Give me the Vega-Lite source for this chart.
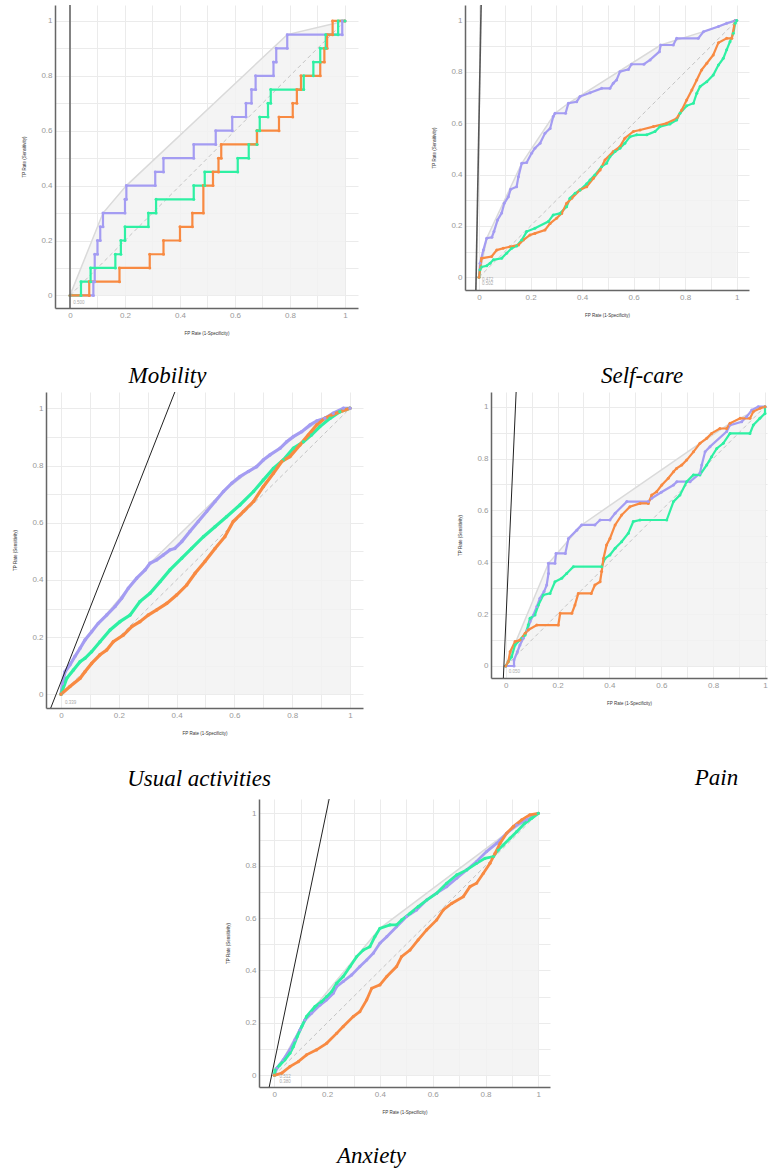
{
"$schema": "https://vega.github.io/schema/vega-lite/v6.json",
"padding": {"left": 0, "top": 5, "right": 0, "bottom": 0},
"config": {
 "view": {"stroke": null},
 "concat": {"spacing": 0},
 "axis": {"grid": true, "gridColor": "#ebebeb", "gridWidth": 1, "domainColor": "#666", "domainWidth": 1.5, "ticks": false, "labelColor": "#999", "labelFontSize": 8, "labelFont": "Liberation Sans", "labelPadding": 3, "labelOverlap": false, "labelBound": false, "titleFont": "Liberation Sans", "titleFontSize": 4.5, "titleFontWeight": "normal", "titleColor": "#333"},
 "axisX": {"titlePadding": 11},
 "axisY": {"titlePadding": 14},
 "title": {"font": "Liberation Serif", "fontStyle": "italic", "fontWeight": "normal", "fontSize": 23, "color": "#000", "orient": "bottom", "anchor": "middle", "frame": "group"}
},
"datasets": {
 "diag": [{"i":0,"x":0,"y":0},{"i":1,"x":1,"y":1}],
 "hull": [
  {"p":1,"i":0,"x":0,"y":0},{"p":1,"i":1,"x":0.12,"y":0.3},{"p":1,"i":2,"x":0.205,"y":0.4},{"p":1,"i":3,"x":0.79,"y":0.95},{"p":1,"i":4,"x":1,"y":1},
  {"p":2,"i":0,"x":0,"y":0},{"p":2,"i":1,"x":0.03,"y":0.152},{"p":2,"i":2,"x":0.166,"y":0.444},{"p":2,"i":3,"x":0.295,"y":0.639},{"p":2,"i":4,"x":0.347,"y":0.678},{"p":2,"i":5,"x":0.705,"y":0.905},{"p":2,"i":6,"x":0.871,"y":0.957},{"p":2,"i":7,"x":1,"y":1},
  {"p":3,"i":0,"x":0,"y":0},{"p":3,"i":1,"x":0.014,"y":0.079},{"p":3,"i":2,"x":0.106,"y":0.219},{"p":3,"i":3,"x":0.233,"y":0.371},{"p":3,"i":4,"x":0.308,"y":0.458},{"p":3,"i":5,"x":0.562,"y":0.709},{"p":3,"i":6,"x":0.7,"y":0.819},{"p":3,"i":7,"x":0.833,"y":0.918},{"p":3,"i":8,"x":0.942,"y":0.983},{"p":3,"i":9,"x":1,"y":1},
  {"p":4,"i":0,"x":0,"y":0},{"p":4,"i":1,"x":0.165,"y":0.396},{"p":4,"i":2,"x":0.293,"y":0.544},{"p":4,"i":3,"x":0.749,"y":0.859},{"p":4,"i":4,"x":0.865,"y":0.936},{"p":4,"i":5,"x":0.981,"y":0.994},{"p":4,"i":6,"x":1,"y":1},
  {"p":5,"i":0,"x":0,"y":0},{"p":5,"i":1,"x":0.122,"y":0.224},{"p":5,"i":2,"x":0.4,"y":0.561},{"p":5,"i":3,"x":0.88,"y":0.924},{"p":5,"i":4,"x":1,"y":1}
 ],
 "thr": [
  {"p":1,"i":0,"x":0,"y":-0.1},{"p":1,"i":1,"x":0,"y":1.1},
  {"p":2,"i":0,"x":-0.013,"y":-0.1},{"p":2,"i":1,"x":0.009,"y":1.1},
  {"p":3,"i":0,"x":-0.0558,"y":-0.1},{"p":3,"i":1,"x":0.4107,"y":1.1},
  {"p":4,"i":0,"x":-0.0115,"y":-0.1},{"p":4,"i":1,"x":0.0422,"y":1.1},
  {"p":5,"i":0,"x":-0.0308,"y":-0.1},{"p":5,"i":1,"x":0.2171,"y":1.1}
 ],
 "lbl": [
  {"p":1,"x":0.012,"y":-0.028,"t":"0.500"},
  {"p":2,"x":0.012,"y":-0.012,"t":"0.472"},{"p":2,"x":0.012,"y":-0.027,"t":"0.502"},
  {"p":3,"x":0.014,"y":-0.031,"t":"0.339"},
  {"p":4,"x":0.012,"y":-0.025,"t":"0.050"},
  {"p":5,"x":0.02,"y":-0.008,"t":"0.512"},{"p":5,"x":0.02,"y":-0.026,"t":"0.380"}
 ],
 "curves": [
  {"p":1,"s":"a","i":0,"x":0,"y":0},{"p":1,"s":"a","i":1,"x":0.085,"y":0},{"p":1,"s":"a","i":2,"x":0.085,"y":0.05},{"p":1,"s":"a","i":3,"x":0.09,"y":0.05},{"p":1,"s":"a","i":4,"x":0.09,"y":0.15},{"p":1,"s":"a","i":5,"x":0.1,"y":0.15},{"p":1,"s":"a","i":6,"x":0.1,"y":0.2},{"p":1,"s":"a","i":7,"x":0.11,"y":0.2},{"p":1,"s":"a","i":8,"x":0.11,"y":0.25},{"p":1,"s":"a","i":9,"x":0.12,"y":0.25},{"p":1,"s":"a","i":10,"x":0.12,"y":0.3},{"p":1,"s":"a","i":11,"x":0.2,"y":0.3},{"p":1,"s":"a","i":12,"x":0.2,"y":0.35},{"p":1,"s":"a","i":13,"x":0.205,"y":0.35},{"p":1,"s":"a","i":14,"x":0.205,"y":0.4},{"p":1,"s":"a","i":15,"x":0.31,"y":0.4},{"p":1,"s":"a","i":16,"x":0.31,"y":0.45},{"p":1,"s":"a","i":17,"x":0.34,"y":0.45},{"p":1,"s":"a","i":18,"x":0.34,"y":0.5},{"p":1,"s":"a","i":19,"x":0.45,"y":0.5},{"p":1,"s":"a","i":20,"x":0.45,"y":0.55},{"p":1,"s":"a","i":21,"x":0.53,"y":0.55},{"p":1,"s":"a","i":22,"x":0.53,"y":0.6},{"p":1,"s":"a","i":23,"x":0.59,"y":0.6},{"p":1,"s":"a","i":24,"x":0.59,"y":0.65},{"p":1,"s":"a","i":25,"x":0.64,"y":0.65},{"p":1,"s":"a","i":26,"x":0.64,"y":0.7},{"p":1,"s":"a","i":27,"x":0.66,"y":0.7},{"p":1,"s":"a","i":28,"x":0.66,"y":0.75},{"p":1,"s":"a","i":29,"x":0.675,"y":0.75},{"p":1,"s":"a","i":30,"x":0.675,"y":0.8},{"p":1,"s":"a","i":31,"x":0.74,"y":0.8},{"p":1,"s":"a","i":32,"x":0.74,"y":0.85},{"p":1,"s":"a","i":33,"x":0.75,"y":0.85},{"p":1,"s":"a","i":34,"x":0.75,"y":0.9},{"p":1,"s":"a","i":35,"x":0.79,"y":0.9},{"p":1,"s":"a","i":36,"x":0.79,"y":0.95},{"p":1,"s":"a","i":37,"x":0.99,"y":0.95},{"p":1,"s":"a","i":38,"x":0.99,"y":1},{"p":1,"s":"a","i":39,"x":1,"y":1},
  {"p":1,"s":"b","i":0,"x":0,"y":0},{"p":1,"s":"b","i":1,"x":0.04,"y":0},{"p":1,"s":"b","i":2,"x":0.04,"y":0.05},{"p":1,"s":"b","i":3,"x":0.075,"y":0.05},{"p":1,"s":"b","i":4,"x":0.075,"y":0.1},{"p":1,"s":"b","i":5,"x":0.165,"y":0.1},{"p":1,"s":"b","i":6,"x":0.165,"y":0.15},{"p":1,"s":"b","i":7,"x":0.185,"y":0.15},{"p":1,"s":"b","i":8,"x":0.185,"y":0.2},{"p":1,"s":"b","i":9,"x":0.2,"y":0.2},{"p":1,"s":"b","i":10,"x":0.2,"y":0.25},{"p":1,"s":"b","i":11,"x":0.285,"y":0.25},{"p":1,"s":"b","i":12,"x":0.285,"y":0.3},{"p":1,"s":"b","i":13,"x":0.313,"y":0.3},{"p":1,"s":"b","i":14,"x":0.313,"y":0.35},{"p":1,"s":"b","i":15,"x":0.45,"y":0.35},{"p":1,"s":"b","i":16,"x":0.45,"y":0.4},{"p":1,"s":"b","i":17,"x":0.49,"y":0.4},{"p":1,"s":"b","i":18,"x":0.49,"y":0.45},{"p":1,"s":"b","i":19,"x":0.61,"y":0.45},{"p":1,"s":"b","i":20,"x":0.61,"y":0.5},{"p":1,"s":"b","i":21,"x":0.65,"y":0.5},{"p":1,"s":"b","i":22,"x":0.65,"y":0.55},{"p":1,"s":"b","i":23,"x":0.68,"y":0.55},{"p":1,"s":"b","i":24,"x":0.68,"y":0.6},{"p":1,"s":"b","i":25,"x":0.69,"y":0.6},{"p":1,"s":"b","i":26,"x":0.69,"y":0.65},{"p":1,"s":"b","i":27,"x":0.72,"y":0.65},{"p":1,"s":"b","i":28,"x":0.72,"y":0.7},{"p":1,"s":"b","i":29,"x":0.73,"y":0.7},{"p":1,"s":"b","i":30,"x":0.73,"y":0.75},{"p":1,"s":"b","i":31,"x":0.85,"y":0.75},{"p":1,"s":"b","i":32,"x":0.85,"y":0.8},{"p":1,"s":"b","i":33,"x":0.885,"y":0.8},{"p":1,"s":"b","i":34,"x":0.885,"y":0.85},{"p":1,"s":"b","i":35,"x":0.91,"y":0.85},{"p":1,"s":"b","i":36,"x":0.91,"y":0.9},{"p":1,"s":"b","i":37,"x":0.93,"y":0.9},{"p":1,"s":"b","i":38,"x":0.93,"y":0.95},{"p":1,"s":"b","i":39,"x":0.975,"y":0.95},{"p":1,"s":"b","i":40,"x":0.975,"y":1},{"p":1,"s":"b","i":41,"x":1,"y":1},
  {"p":1,"s":"c","i":0,"x":0,"y":0},{"p":1,"s":"c","i":1,"x":0.07,"y":0},{"p":1,"s":"c","i":2,"x":0.07,"y":0.05},{"p":1,"s":"c","i":3,"x":0.18,"y":0.05},{"p":1,"s":"c","i":4,"x":0.18,"y":0.1},{"p":1,"s":"c","i":5,"x":0.29,"y":0.1},{"p":1,"s":"c","i":6,"x":0.29,"y":0.15},{"p":1,"s":"c","i":7,"x":0.34,"y":0.15},{"p":1,"s":"c","i":8,"x":0.34,"y":0.2},{"p":1,"s":"c","i":9,"x":0.4,"y":0.2},{"p":1,"s":"c","i":10,"x":0.4,"y":0.25},{"p":1,"s":"c","i":11,"x":0.445,"y":0.25},{"p":1,"s":"c","i":12,"x":0.445,"y":0.3},{"p":1,"s":"c","i":13,"x":0.485,"y":0.3},{"p":1,"s":"c","i":14,"x":0.485,"y":0.4},{"p":1,"s":"c","i":15,"x":0.52,"y":0.4},{"p":1,"s":"c","i":16,"x":0.52,"y":0.45},{"p":1,"s":"c","i":17,"x":0.54,"y":0.45},{"p":1,"s":"c","i":18,"x":0.54,"y":0.5},{"p":1,"s":"c","i":19,"x":0.55,"y":0.5},{"p":1,"s":"c","i":20,"x":0.55,"y":0.55},{"p":1,"s":"c","i":21,"x":0.68,"y":0.55},{"p":1,"s":"c","i":22,"x":0.68,"y":0.6},{"p":1,"s":"c","i":23,"x":0.76,"y":0.6},{"p":1,"s":"c","i":24,"x":0.76,"y":0.65},{"p":1,"s":"c","i":25,"x":0.81,"y":0.65},{"p":1,"s":"c","i":26,"x":0.81,"y":0.7},{"p":1,"s":"c","i":27,"x":0.825,"y":0.7},{"p":1,"s":"c","i":28,"x":0.825,"y":0.75},{"p":1,"s":"c","i":29,"x":0.84,"y":0.75},{"p":1,"s":"c","i":30,"x":0.84,"y":0.8},{"p":1,"s":"c","i":31,"x":0.91,"y":0.8},{"p":1,"s":"c","i":32,"x":0.91,"y":0.85},{"p":1,"s":"c","i":33,"x":0.925,"y":0.85},{"p":1,"s":"c","i":34,"x":0.925,"y":0.9},{"p":1,"s":"c","i":35,"x":0.935,"y":0.9},{"p":1,"s":"c","i":36,"x":0.935,"y":0.95},{"p":1,"s":"c","i":37,"x":0.955,"y":0.95},{"p":1,"s":"c","i":38,"x":0.955,"y":1},{"p":1,"s":"c","i":39,"x":1,"y":1},

  {"p":2,"s":"a","i":0,"x":0,"y":0},{"p":2,"s":"a","i":1,"x":0.004,"y":0.055},{"p":2,"s":"a","i":2,"x":0.017,"y":0.106},{"p":2,"s":"a","i":3,"x":0.03,"y":0.152},{"p":2,"s":"a","i":4,"x":0.05,"y":0.156},{"p":2,"s":"a","i":5,"x":0.058,"y":0.178},{"p":2,"s":"a","i":6,"x":0.072,"y":0.223},{"p":2,"s":"a","i":7,"x":0.088,"y":0.25},{"p":2,"s":"a","i":8,"x":0.098,"y":0.288},{"p":2,"s":"a","i":9,"x":0.114,"y":0.314},{"p":2,"s":"a","i":10,"x":0.123,"y":0.343},{"p":2,"s":"a","i":11,"x":0.146,"y":0.353},{"p":2,"s":"a","i":12,"x":0.153,"y":0.392},{"p":2,"s":"a","i":13,"x":0.166,"y":0.444},{"p":2,"s":"a","i":14,"x":0.185,"y":0.447},{"p":2,"s":"a","i":15,"x":0.204,"y":0.483},{"p":2,"s":"a","i":16,"x":0.217,"y":0.503},{"p":2,"s":"a","i":17,"x":0.237,"y":0.522},{"p":2,"s":"a","i":18,"x":0.256,"y":0.561},{"p":2,"s":"a","i":19,"x":0.276,"y":0.58},{"p":2,"s":"a","i":20,"x":0.288,"y":0.626},{"p":2,"s":"a","i":21,"x":0.295,"y":0.639},{"p":2,"s":"a","i":22,"x":0.336,"y":0.639},{"p":2,"s":"a","i":23,"x":0.347,"y":0.678},{"p":2,"s":"a","i":24,"x":0.379,"y":0.684},{"p":2,"s":"a","i":25,"x":0.392,"y":0.704},{"p":2,"s":"a","i":26,"x":0.431,"y":0.719},{"p":2,"s":"a","i":27,"x":0.476,"y":0.736},{"p":2,"s":"a","i":28,"x":0.508,"y":0.736},{"p":2,"s":"a","i":29,"x":0.521,"y":0.756},{"p":2,"s":"a","i":30,"x":0.534,"y":0.769},{"p":2,"s":"a","i":31,"x":0.547,"y":0.801},{"p":2,"s":"a","i":32,"x":0.58,"y":0.81},{"p":2,"s":"a","i":33,"x":0.592,"y":0.83},{"p":2,"s":"a","i":34,"x":0.64,"y":0.83},{"p":2,"s":"a","i":35,"x":0.664,"y":0.847},{"p":2,"s":"a","i":36,"x":0.7,"y":0.879},{"p":2,"s":"a","i":37,"x":0.705,"y":0.905},{"p":2,"s":"a","i":38,"x":0.754,"y":0.905},{"p":2,"s":"a","i":39,"x":0.767,"y":0.931},{"p":2,"s":"a","i":40,"x":0.851,"y":0.931},{"p":2,"s":"a","i":41,"x":0.871,"y":0.957},{"p":2,"s":"a","i":42,"x":0.929,"y":0.977},{"p":2,"s":"a","i":43,"x":0.961,"y":0.99},{"p":2,"s":"a","i":44,"x":0.994,"y":1},{"p":2,"s":"a","i":45,"x":1,"y":1},
  {"p":2,"s":"b","i":0,"x":0,"y":0},{"p":2,"s":"b","i":1,"x":0.004,"y":0.029},{"p":2,"s":"b","i":2,"x":0.01,"y":0.04},{"p":2,"s":"b","i":3,"x":0.03,"y":0.045},{"p":2,"s":"b","i":4,"x":0.043,"y":0.055},{"p":2,"s":"b","i":5,"x":0.056,"y":0.068},{"p":2,"s":"b","i":6,"x":0.088,"y":0.074},{"p":2,"s":"b","i":7,"x":0.107,"y":0.094},{"p":2,"s":"b","i":8,"x":0.127,"y":0.113},{"p":2,"s":"b","i":9,"x":0.146,"y":0.122},{"p":2,"s":"b","i":10,"x":0.166,"y":0.145},{"p":2,"s":"b","i":11,"x":0.185,"y":0.178},{"p":2,"s":"b","i":12,"x":0.217,"y":0.191},{"p":2,"s":"b","i":13,"x":0.269,"y":0.217},{"p":2,"s":"b","i":14,"x":0.288,"y":0.243},{"p":2,"s":"b","i":15,"x":0.314,"y":0.249},{"p":2,"s":"b","i":16,"x":0.34,"y":0.275},{"p":2,"s":"b","i":17,"x":0.353,"y":0.308},{"p":2,"s":"b","i":18,"x":0.373,"y":0.327},{"p":2,"s":"b","i":19,"x":0.392,"y":0.34},{"p":2,"s":"b","i":20,"x":0.418,"y":0.364},{"p":2,"s":"b","i":21,"x":0.431,"y":0.379},{"p":2,"s":"b","i":22,"x":0.45,"y":0.399},{"p":2,"s":"b","i":23,"x":0.476,"y":0.431},{"p":2,"s":"b","i":24,"x":0.495,"y":0.444},{"p":2,"s":"b","i":25,"x":0.508,"y":0.47},{"p":2,"s":"b","i":26,"x":0.528,"y":0.49},{"p":2,"s":"b","i":27,"x":0.547,"y":0.503},{"p":2,"s":"b","i":28,"x":0.566,"y":0.522},{"p":2,"s":"b","i":29,"x":0.586,"y":0.548},{"p":2,"s":"b","i":30,"x":0.612,"y":0.555},{"p":2,"s":"b","i":31,"x":0.651,"y":0.555},{"p":2,"s":"b","i":32,"x":0.683,"y":0.568},{"p":2,"s":"b","i":33,"x":0.702,"y":0.587},{"p":2,"s":"b","i":34,"x":0.741,"y":0.597},{"p":2,"s":"b","i":35,"x":0.767,"y":0.613},{"p":2,"s":"b","i":36,"x":0.78,"y":0.639},{"p":2,"s":"b","i":37,"x":0.806,"y":0.668},{"p":2,"s":"b","i":38,"x":0.832,"y":0.678},{"p":2,"s":"b","i":39,"x":0.845,"y":0.717},{"p":2,"s":"b","i":40,"x":0.858,"y":0.743},{"p":2,"s":"b","i":41,"x":0.884,"y":0.762},{"p":2,"s":"b","i":42,"x":0.909,"y":0.788},{"p":2,"s":"b","i":43,"x":0.929,"y":0.827},{"p":2,"s":"b","i":44,"x":0.948,"y":0.853},{"p":2,"s":"b","i":45,"x":0.961,"y":0.886},{"p":2,"s":"b","i":46,"x":0.974,"y":0.918},{"p":2,"s":"b","i":47,"x":0.987,"y":0.951},{"p":2,"s":"b","i":48,"x":0.994,"y":0.99},{"p":2,"s":"b","i":49,"x":1,"y":1},
  {"p":2,"s":"c","i":0,"x":0,"y":0},{"p":2,"s":"c","i":1,"x":0.01,"y":0.074},{"p":2,"s":"c","i":2,"x":0.049,"y":0.081},{"p":2,"s":"c","i":3,"x":0.069,"y":0.106},{"p":2,"s":"c","i":4,"x":0.094,"y":0.113},{"p":2,"s":"c","i":5,"x":0.12,"y":0.119},{"p":2,"s":"c","i":6,"x":0.153,"y":0.126},{"p":2,"s":"c","i":7,"x":0.172,"y":0.145},{"p":2,"s":"c","i":8,"x":0.198,"y":0.165},{"p":2,"s":"c","i":9,"x":0.217,"y":0.171},{"p":2,"s":"c","i":10,"x":0.256,"y":0.184},{"p":2,"s":"c","i":11,"x":0.276,"y":0.21},{"p":2,"s":"c","i":12,"x":0.301,"y":0.23},{"p":2,"s":"c","i":13,"x":0.321,"y":0.249},{"p":2,"s":"c","i":14,"x":0.34,"y":0.288},{"p":2,"s":"c","i":15,"x":0.36,"y":0.308},{"p":2,"s":"c","i":16,"x":0.392,"y":0.34},{"p":2,"s":"c","i":17,"x":0.418,"y":0.353},{"p":2,"s":"c","i":18,"x":0.444,"y":0.386},{"p":2,"s":"c","i":19,"x":0.47,"y":0.418},{"p":2,"s":"c","i":20,"x":0.489,"y":0.457},{"p":2,"s":"c","i":21,"x":0.521,"y":0.49},{"p":2,"s":"c","i":22,"x":0.547,"y":0.509},{"p":2,"s":"c","i":23,"x":0.566,"y":0.542},{"p":2,"s":"c","i":24,"x":0.599,"y":0.568},{"p":2,"s":"c","i":25,"x":0.625,"y":0.574},{"p":2,"s":"c","i":26,"x":0.677,"y":0.587},{"p":2,"s":"c","i":27,"x":0.728,"y":0.6},{"p":2,"s":"c","i":28,"x":0.767,"y":0.619},{"p":2,"s":"c","i":29,"x":0.787,"y":0.652},{"p":2,"s":"c","i":30,"x":0.806,"y":0.691},{"p":2,"s":"c","i":31,"x":0.826,"y":0.73},{"p":2,"s":"c","i":32,"x":0.845,"y":0.769},{"p":2,"s":"c","i":33,"x":0.864,"y":0.808},{"p":2,"s":"c","i":34,"x":0.884,"y":0.834},{"p":2,"s":"c","i":35,"x":0.909,"y":0.866},{"p":2,"s":"c","i":36,"x":0.929,"y":0.914},{"p":2,"s":"c","i":37,"x":0.961,"y":0.931},{"p":2,"s":"c","i":38,"x":0.981,"y":0.931},{"p":2,"s":"c","i":39,"x":0.994,"y":1},{"p":2,"s":"c","i":40,"x":1,"y":1},

  {"p":3,"s":"a","i":0,"x":0,"y":0},{"p":3,"s":"a","i":1,"x":0.005,"y":0.038},{"p":3,"s":"a","i":2,"x":0.014,"y":0.079},{"p":3,"s":"a","i":3,"x":0.031,"y":0.103},{"p":3,"s":"a","i":4,"x":0.048,"y":0.132},{"p":3,"s":"a","i":5,"x":0.066,"y":0.161},{"p":3,"s":"a","i":6,"x":0.083,"y":0.19},{"p":3,"s":"a","i":7,"x":0.106,"y":0.219},{"p":3,"s":"a","i":8,"x":0.129,"y":0.248},{"p":3,"s":"a","i":9,"x":0.158,"y":0.277},{"p":3,"s":"a","i":10,"x":0.187,"y":0.307},{"p":3,"s":"a","i":11,"x":0.21,"y":0.336},{"p":3,"s":"a","i":12,"x":0.233,"y":0.371},{"p":3,"s":"a","i":13,"x":0.262,"y":0.406},{"p":3,"s":"a","i":14,"x":0.291,"y":0.435},{"p":3,"s":"a","i":15,"x":0.308,"y":0.458},{"p":3,"s":"a","i":16,"x":0.331,"y":0.47},{"p":3,"s":"a","i":17,"x":0.354,"y":0.487},{"p":3,"s":"a","i":18,"x":0.377,"y":0.505},{"p":3,"s":"a","i":19,"x":0.394,"y":0.51},{"p":3,"s":"a","i":20,"x":0.418,"y":0.534},{"p":3,"s":"a","i":21,"x":0.446,"y":0.569},{"p":3,"s":"a","i":22,"x":0.475,"y":0.604},{"p":3,"s":"a","i":23,"x":0.504,"y":0.639},{"p":3,"s":"a","i":24,"x":0.533,"y":0.674},{"p":3,"s":"a","i":25,"x":0.562,"y":0.709},{"p":3,"s":"a","i":26,"x":0.591,"y":0.738},{"p":3,"s":"a","i":27,"x":0.619,"y":0.761},{"p":3,"s":"a","i":28,"x":0.648,"y":0.779},{"p":3,"s":"a","i":29,"x":0.677,"y":0.796},{"p":3,"s":"a","i":30,"x":0.7,"y":0.819},{"p":3,"s":"a","i":31,"x":0.723,"y":0.837},{"p":3,"s":"a","i":32,"x":0.758,"y":0.86},{"p":3,"s":"a","i":33,"x":0.781,"y":0.883},{"p":3,"s":"a","i":34,"x":0.804,"y":0.901},{"p":3,"s":"a","i":35,"x":0.833,"y":0.918},{"p":3,"s":"a","i":36,"x":0.862,"y":0.942},{"p":3,"s":"a","i":37,"x":0.885,"y":0.956},{"p":3,"s":"a","i":38,"x":0.913,"y":0.965},{"p":3,"s":"a","i":39,"x":0.942,"y":0.983},{"p":3,"s":"a","i":40,"x":0.977,"y":1},{"p":3,"s":"a","i":41,"x":1,"y":1},
  {"p":3,"s":"b","i":0,"x":0,"y":0},{"p":3,"s":"b","i":1,"x":0.02,"y":0.056},{"p":3,"s":"b","i":2,"x":0.043,"y":0.085},{"p":3,"s":"b","i":3,"x":0.066,"y":0.114},{"p":3,"s":"b","i":4,"x":0.083,"y":0.126},{"p":3,"s":"b","i":5,"x":0.106,"y":0.149},{"p":3,"s":"b","i":6,"x":0.135,"y":0.184},{"p":3,"s":"b","i":7,"x":0.17,"y":0.225},{"p":3,"s":"b","i":8,"x":0.204,"y":0.254},{"p":3,"s":"b","i":9,"x":0.239,"y":0.277},{"p":3,"s":"b","i":10,"x":0.273,"y":0.324},{"p":3,"s":"b","i":11,"x":0.308,"y":0.353},{"p":3,"s":"b","i":12,"x":0.343,"y":0.394},{"p":3,"s":"b","i":13,"x":0.377,"y":0.435},{"p":3,"s":"b","i":14,"x":0.418,"y":0.476},{"p":3,"s":"b","i":15,"x":0.452,"y":0.51},{"p":3,"s":"b","i":16,"x":0.493,"y":0.551},{"p":3,"s":"b","i":17,"x":0.533,"y":0.586},{"p":3,"s":"b","i":18,"x":0.573,"y":0.621},{"p":3,"s":"b","i":19,"x":0.619,"y":0.662},{"p":3,"s":"b","i":20,"x":0.666,"y":0.709},{"p":3,"s":"b","i":21,"x":0.7,"y":0.749},{"p":3,"s":"b","i":22,"x":0.735,"y":0.79},{"p":3,"s":"b","i":23,"x":0.769,"y":0.819},{"p":3,"s":"b","i":24,"x":0.804,"y":0.86},{"p":3,"s":"b","i":25,"x":0.839,"y":0.883},{"p":3,"s":"b","i":26,"x":0.867,"y":0.907},{"p":3,"s":"b","i":27,"x":0.896,"y":0.936},{"p":3,"s":"b","i":28,"x":0.931,"y":0.965},{"p":3,"s":"b","i":29,"x":0.965,"y":0.988},{"p":3,"s":"b","i":30,"x":1,"y":1},
  {"p":3,"s":"c","i":0,"x":0,"y":0},{"p":3,"s":"c","i":1,"x":0.031,"y":0.027},{"p":3,"s":"c","i":2,"x":0.066,"y":0.056},{"p":3,"s":"c","i":3,"x":0.083,"y":0.079},{"p":3,"s":"c","i":4,"x":0.106,"y":0.108},{"p":3,"s":"c","i":5,"x":0.135,"y":0.138},{"p":3,"s":"c","i":6,"x":0.158,"y":0.155},{"p":3,"s":"c","i":7,"x":0.181,"y":0.184},{"p":3,"s":"c","i":8,"x":0.216,"y":0.207},{"p":3,"s":"c","i":9,"x":0.245,"y":0.237},{"p":3,"s":"c","i":10,"x":0.273,"y":0.254},{"p":3,"s":"c","i":11,"x":0.302,"y":0.277},{"p":3,"s":"c","i":12,"x":0.331,"y":0.295},{"p":3,"s":"c","i":13,"x":0.366,"y":0.318},{"p":3,"s":"c","i":14,"x":0.4,"y":0.347},{"p":3,"s":"c","i":15,"x":0.435,"y":0.382},{"p":3,"s":"c","i":16,"x":0.464,"y":0.423},{"p":3,"s":"c","i":17,"x":0.498,"y":0.464},{"p":3,"s":"c","i":18,"x":0.533,"y":0.51},{"p":3,"s":"c","i":19,"x":0.567,"y":0.551},{"p":3,"s":"c","i":20,"x":0.596,"y":0.604},{"p":3,"s":"c","i":21,"x":0.631,"y":0.639},{"p":3,"s":"c","i":22,"x":0.666,"y":0.674},{"p":3,"s":"c","i":23,"x":0.7,"y":0.726},{"p":3,"s":"c","i":24,"x":0.735,"y":0.773},{"p":3,"s":"c","i":25,"x":0.764,"y":0.814},{"p":3,"s":"c","i":26,"x":0.792,"y":0.831},{"p":3,"s":"c","i":27,"x":0.827,"y":0.872},{"p":3,"s":"c","i":28,"x":0.856,"y":0.907},{"p":3,"s":"c","i":29,"x":0.885,"y":0.942},{"p":3,"s":"c","i":30,"x":0.913,"y":0.965},{"p":3,"s":"c","i":31,"x":0.942,"y":0.979},{"p":3,"s":"c","i":32,"x":1,"y":1},

  {"p":4,"s":"a","i":0,"x":0,"y":0},{"p":4,"s":"a","i":1,"x":0.032,"y":0},{"p":4,"s":"a","i":2,"x":0.032,"y":0.023},{"p":4,"s":"a","i":3,"x":0.045,"y":0.055},{"p":4,"s":"a","i":4,"x":0.055,"y":0.081},{"p":4,"s":"a","i":5,"x":0.068,"y":0.107},{"p":4,"s":"a","i":6,"x":0.084,"y":0.139},{"p":4,"s":"a","i":7,"x":0.094,"y":0.171},{"p":4,"s":"a","i":8,"x":0.107,"y":0.197},{"p":4,"s":"a","i":9,"x":0.12,"y":0.229},{"p":4,"s":"a","i":10,"x":0.132,"y":0.261},{"p":4,"s":"a","i":11,"x":0.148,"y":0.287},{"p":4,"s":"a","i":12,"x":0.158,"y":0.312},{"p":4,"s":"a","i":13,"x":0.165,"y":0.357},{"p":4,"s":"a","i":14,"x":0.165,"y":0.396},{"p":4,"s":"a","i":15,"x":0.19,"y":0.396},{"p":4,"s":"a","i":16,"x":0.194,"y":0.434},{"p":4,"s":"a","i":17,"x":0.23,"y":0.434},{"p":4,"s":"a","i":18,"x":0.242,"y":0.492},{"p":4,"s":"a","i":19,"x":0.274,"y":0.524},{"p":4,"s":"a","i":20,"x":0.293,"y":0.544},{"p":4,"s":"a","i":21,"x":0.344,"y":0.544},{"p":4,"s":"a","i":22,"x":0.364,"y":0.563},{"p":4,"s":"a","i":23,"x":0.402,"y":0.563},{"p":4,"s":"a","i":24,"x":0.422,"y":0.589},{"p":4,"s":"a","i":25,"x":0.467,"y":0.634},{"p":4,"s":"a","i":26,"x":0.55,"y":0.634},{"p":4,"s":"a","i":27,"x":0.563,"y":0.647},{"p":4,"s":"a","i":28,"x":0.6,"y":0.67},{"p":4,"s":"a","i":29,"x":0.647,"y":0.698},{"p":4,"s":"a","i":30,"x":0.66,"y":0.711},{"p":4,"s":"a","i":31,"x":0.711,"y":0.711},{"p":4,"s":"a","i":32,"x":0.749,"y":0.743},{"p":4,"s":"a","i":33,"x":0.756,"y":0.775},{"p":4,"s":"a","i":34,"x":0.769,"y":0.826},{"p":4,"s":"a","i":35,"x":0.788,"y":0.846},{"p":4,"s":"a","i":36,"x":0.852,"y":0.904},{"p":4,"s":"a","i":37,"x":0.865,"y":0.929},{"p":4,"s":"a","i":38,"x":0.91,"y":0.942},{"p":4,"s":"a","i":39,"x":0.929,"y":0.961},{"p":4,"s":"a","i":40,"x":0.949,"y":0.987},{"p":4,"s":"a","i":41,"x":0.974,"y":1},{"p":4,"s":"a","i":42,"x":1,"y":1},
  {"p":4,"s":"b","i":0,"x":0,"y":0},{"p":4,"s":"b","i":1,"x":0.01,"y":0.017},{"p":4,"s":"b","i":2,"x":0.023,"y":0.036},{"p":4,"s":"b","i":3,"x":0.036,"y":0.081},{"p":4,"s":"b","i":4,"x":0.062,"y":0.107},{"p":4,"s":"b","i":5,"x":0.075,"y":0.12},{"p":4,"s":"b","i":6,"x":0.087,"y":0.158},{"p":4,"s":"b","i":7,"x":0.094,"y":0.184},{"p":4,"s":"b","i":8,"x":0.113,"y":0.197},{"p":4,"s":"b","i":9,"x":0.126,"y":0.235},{"p":4,"s":"b","i":10,"x":0.145,"y":0.274},{"p":4,"s":"b","i":11,"x":0.171,"y":0.28},{"p":4,"s":"b","i":12,"x":0.19,"y":0.325},{"p":4,"s":"b","i":13,"x":0.216,"y":0.338},{"p":4,"s":"b","i":14,"x":0.235,"y":0.357},{"p":4,"s":"b","i":15,"x":0.261,"y":0.383},{"p":4,"s":"b","i":16,"x":0.37,"y":0.383},{"p":4,"s":"b","i":17,"x":0.383,"y":0.415},{"p":4,"s":"b","i":18,"x":0.402,"y":0.428},{"p":4,"s":"b","i":19,"x":0.422,"y":0.454},{"p":4,"s":"b","i":20,"x":0.447,"y":0.479},{"p":4,"s":"b","i":21,"x":0.473,"y":0.512},{"p":4,"s":"b","i":22,"x":0.492,"y":0.557},{"p":4,"s":"b","i":23,"x":0.518,"y":0.563},{"p":4,"s":"b","i":24,"x":0.621,"y":0.563},{"p":4,"s":"b","i":25,"x":0.647,"y":0.634},{"p":4,"s":"b","i":26,"x":0.672,"y":0.659},{"p":4,"s":"b","i":27,"x":0.698,"y":0.711},{"p":4,"s":"b","i":28,"x":0.724,"y":0.737},{"p":4,"s":"b","i":29,"x":0.749,"y":0.737},{"p":4,"s":"b","i":30,"x":0.775,"y":0.775},{"p":4,"s":"b","i":31,"x":0.794,"y":0.807},{"p":4,"s":"b","i":32,"x":0.814,"y":0.839},{"p":4,"s":"b","i":33,"x":0.839,"y":0.859},{"p":4,"s":"b","i":34,"x":0.865,"y":0.897},{"p":4,"s":"b","i":35,"x":0.942,"y":0.897},{"p":4,"s":"b","i":36,"x":0.955,"y":0.929},{"p":4,"s":"b","i":37,"x":0.98,"y":0.955},{"p":4,"s":"b","i":38,"x":1,"y":0.974},{"p":4,"s":"b","i":39,"x":1,"y":1},
  {"p":4,"s":"c","i":0,"x":0,"y":0},{"p":4,"s":"c","i":1,"x":0.01,"y":0.017},{"p":4,"s":"c","i":2,"x":0.017,"y":0.055},{"p":4,"s":"c","i":3,"x":0.036,"y":0.094},{"p":4,"s":"c","i":4,"x":0.055,"y":0.1},{"p":4,"s":"c","i":5,"x":0.075,"y":0.126},{"p":4,"s":"c","i":6,"x":0.087,"y":0.139},{"p":4,"s":"c","i":7,"x":0.12,"y":0.158},{"p":4,"s":"c","i":8,"x":0.203,"y":0.158},{"p":4,"s":"c","i":9,"x":0.21,"y":0.203},{"p":4,"s":"c","i":10,"x":0.255,"y":0.203},{"p":4,"s":"c","i":11,"x":0.267,"y":0.235},{"p":4,"s":"c","i":12,"x":0.28,"y":0.28},{"p":4,"s":"c","i":13,"x":0.33,"y":0.28},{"p":4,"s":"c","i":14,"x":0.344,"y":0.312},{"p":4,"s":"c","i":15,"x":0.364,"y":0.325},{"p":4,"s":"c","i":16,"x":0.37,"y":0.364},{"p":4,"s":"c","i":17,"x":0.377,"y":0.415},{"p":4,"s":"c","i":18,"x":0.389,"y":0.467},{"p":4,"s":"c","i":19,"x":0.402,"y":0.492},{"p":4,"s":"c","i":20,"x":0.422,"y":0.544},{"p":4,"s":"c","i":21,"x":0.447,"y":0.582},{"p":4,"s":"c","i":22,"x":0.479,"y":0.614},{"p":4,"s":"c","i":23,"x":0.518,"y":0.627},{"p":4,"s":"c","i":24,"x":0.55,"y":0.627},{"p":4,"s":"c","i":25,"x":0.563,"y":0.659},{"p":4,"s":"c","i":26,"x":0.582,"y":0.672},{"p":4,"s":"c","i":27,"x":0.602,"y":0.698},{"p":4,"s":"c","i":28,"x":0.627,"y":0.724},{"p":4,"s":"c","i":29,"x":0.647,"y":0.749},{"p":4,"s":"c","i":30,"x":0.659,"y":0.762},{"p":4,"s":"c","i":31,"x":0.679,"y":0.775},{"p":4,"s":"c","i":32,"x":0.698,"y":0.794},{"p":4,"s":"c","i":33,"x":0.724,"y":0.826},{"p":4,"s":"c","i":34,"x":0.749,"y":0.859},{"p":4,"s":"c","i":35,"x":0.775,"y":0.878},{"p":4,"s":"c","i":36,"x":0.794,"y":0.897},{"p":4,"s":"c","i":37,"x":0.826,"y":0.916},{"p":4,"s":"c","i":38,"x":0.852,"y":0.916},{"p":4,"s":"c","i":39,"x":0.865,"y":0.936},{"p":4,"s":"c","i":40,"x":0.904,"y":0.955},{"p":4,"s":"c","i":41,"x":0.942,"y":0.955},{"p":4,"s":"c","i":42,"x":0.955,"y":0.981},{"p":4,"s":"c","i":43,"x":0.981,"y":0.994},{"p":4,"s":"c","i":44,"x":1,"y":1},

  {"p":5,"s":"a","i":0,"x":0,"y":0},{"p":5,"s":"a","i":1,"x":0.009,"y":0.027},{"p":5,"s":"a","i":2,"x":0.034,"y":0.059},{"p":5,"s":"a","i":3,"x":0.059,"y":0.097},{"p":5,"s":"a","i":4,"x":0.078,"y":0.135},{"p":5,"s":"a","i":5,"x":0.097,"y":0.173},{"p":5,"s":"a","i":6,"x":0.116,"y":0.211},{"p":5,"s":"a","i":7,"x":0.141,"y":0.237},{"p":5,"s":"a","i":8,"x":0.173,"y":0.268},{"p":5,"s":"a","i":9,"x":0.198,"y":0.288},{"p":5,"s":"a","i":10,"x":0.223,"y":0.313},{"p":5,"s":"a","i":11,"x":0.236,"y":0.338},{"p":5,"s":"a","i":12,"x":0.261,"y":0.358},{"p":5,"s":"a","i":13,"x":0.293,"y":0.383},{"p":5,"s":"a","i":14,"x":0.324,"y":0.415},{"p":5,"s":"a","i":15,"x":0.35,"y":0.44},{"p":5,"s":"a","i":16,"x":0.375,"y":0.466},{"p":5,"s":"a","i":17,"x":0.4,"y":0.504},{"p":5,"s":"a","i":18,"x":0.426,"y":0.529},{"p":5,"s":"a","i":19,"x":0.463,"y":0.567},{"p":5,"s":"a","i":20,"x":0.501,"y":0.606},{"p":5,"s":"a","i":21,"x":0.539,"y":0.631},{"p":5,"s":"a","i":22,"x":0.577,"y":0.669},{"p":5,"s":"a","i":23,"x":0.615,"y":0.695},{"p":5,"s":"a","i":24,"x":0.653,"y":0.72},{"p":5,"s":"a","i":25,"x":0.691,"y":0.752},{"p":5,"s":"a","i":26,"x":0.729,"y":0.784},{"p":5,"s":"a","i":27,"x":0.766,"y":0.816},{"p":5,"s":"a","i":28,"x":0.804,"y":0.854},{"p":5,"s":"a","i":29,"x":0.842,"y":0.885},{"p":5,"s":"a","i":30,"x":0.88,"y":0.924},{"p":5,"s":"a","i":31,"x":0.918,"y":0.955},{"p":5,"s":"a","i":32,"x":0.956,"y":0.975},{"p":5,"s":"a","i":33,"x":1,"y":1},
  {"p":5,"s":"b","i":0,"x":0,"y":0},{"p":5,"s":"b","i":1,"x":0.003,"y":0.02},{"p":5,"s":"b","i":2,"x":0.021,"y":0.039},{"p":5,"s":"b","i":3,"x":0.04,"y":0.059},{"p":5,"s":"b","i":4,"x":0.059,"y":0.084},{"p":5,"s":"b","i":5,"x":0.072,"y":0.109},{"p":5,"s":"b","i":6,"x":0.087,"y":0.148},{"p":5,"s":"b","i":7,"x":0.104,"y":0.186},{"p":5,"s":"b","i":8,"x":0.122,"y":0.224},{"p":5,"s":"b","i":9,"x":0.154,"y":0.262},{"p":5,"s":"b","i":10,"x":0.179,"y":0.281},{"p":5,"s":"b","i":11,"x":0.198,"y":0.3},{"p":5,"s":"b","i":12,"x":0.217,"y":0.319},{"p":5,"s":"b","i":13,"x":0.236,"y":0.351},{"p":5,"s":"b","i":14,"x":0.261,"y":0.377},{"p":5,"s":"b","i":15,"x":0.287,"y":0.415},{"p":5,"s":"b","i":16,"x":0.312,"y":0.453},{"p":5,"s":"b","i":17,"x":0.337,"y":0.478},{"p":5,"s":"b","i":18,"x":0.362,"y":0.491},{"p":5,"s":"b","i":19,"x":0.381,"y":0.529},{"p":5,"s":"b","i":20,"x":0.4,"y":0.561},{"p":5,"s":"b","i":21,"x":0.438,"y":0.574},{"p":5,"s":"b","i":22,"x":0.463,"y":0.574},{"p":5,"s":"b","i":23,"x":0.482,"y":0.593},{"p":5,"s":"b","i":24,"x":0.514,"y":0.618},{"p":5,"s":"b","i":25,"x":0.545,"y":0.644},{"p":5,"s":"b","i":26,"x":0.577,"y":0.669},{"p":5,"s":"b","i":27,"x":0.615,"y":0.695},{"p":5,"s":"b","i":28,"x":0.653,"y":0.733},{"p":5,"s":"b","i":29,"x":0.691,"y":0.765},{"p":5,"s":"b","i":30,"x":0.729,"y":0.784},{"p":5,"s":"b","i":31,"x":0.766,"y":0.809},{"p":5,"s":"b","i":32,"x":0.798,"y":0.828},{"p":5,"s":"b","i":33,"x":0.83,"y":0.835},{"p":5,"s":"b","i":34,"x":0.848,"y":0.86},{"p":5,"s":"b","i":35,"x":0.867,"y":0.879},{"p":5,"s":"b","i":36,"x":0.893,"y":0.905},{"p":5,"s":"b","i":37,"x":0.918,"y":0.93},{"p":5,"s":"b","i":38,"x":0.949,"y":0.962},{"p":5,"s":"b","i":39,"x":0.975,"y":0.981},{"p":5,"s":"b","i":40,"x":1,"y":1},
  {"p":5,"s":"c","i":0,"x":0,"y":0},{"p":5,"s":"c","i":1,"x":0.028,"y":0.008},{"p":5,"s":"c","i":2,"x":0.059,"y":0.033},{"p":5,"s":"c","i":3,"x":0.091,"y":0.052},{"p":5,"s":"c","i":4,"x":0.122,"y":0.078},{"p":5,"s":"c","i":5,"x":0.16,"y":0.097},{"p":5,"s":"c","i":6,"x":0.198,"y":0.122},{"p":5,"s":"c","i":7,"x":0.236,"y":0.16},{"p":5,"s":"c","i":8,"x":0.261,"y":0.186},{"p":5,"s":"c","i":9,"x":0.299,"y":0.224},{"p":5,"s":"c","i":10,"x":0.324,"y":0.243},{"p":5,"s":"c","i":11,"x":0.35,"y":0.288},{"p":5,"s":"c","i":12,"x":0.369,"y":0.332},{"p":5,"s":"c","i":13,"x":0.4,"y":0.345},{"p":5,"s":"c","i":14,"x":0.426,"y":0.377},{"p":5,"s":"c","i":15,"x":0.463,"y":0.415},{"p":5,"s":"c","i":16,"x":0.482,"y":0.453},{"p":5,"s":"c","i":17,"x":0.514,"y":0.478},{"p":5,"s":"c","i":18,"x":0.545,"y":0.517},{"p":5,"s":"c","i":19,"x":0.577,"y":0.555},{"p":5,"s":"c","i":20,"x":0.615,"y":0.593},{"p":5,"s":"c","i":21,"x":0.64,"y":0.631},{"p":5,"s":"c","i":22,"x":0.672,"y":0.656},{"p":5,"s":"c","i":23,"x":0.716,"y":0.682},{"p":5,"s":"c","i":24,"x":0.741,"y":0.72},{"p":5,"s":"c","i":25,"x":0.766,"y":0.733},{"p":5,"s":"c","i":26,"x":0.792,"y":0.771},{"p":5,"s":"c","i":27,"x":0.817,"y":0.809},{"p":5,"s":"c","i":28,"x":0.836,"y":0.847},{"p":5,"s":"c","i":29,"x":0.855,"y":0.885},{"p":5,"s":"c","i":30,"x":0.88,"y":0.924},{"p":5,"s":"c","i":31,"x":0.905,"y":0.949},{"p":5,"s":"c","i":32,"x":0.937,"y":0.975},{"p":5,"s":"c","i":33,"x":0.968,"y":0.994},{"p":5,"s":"c","i":34,"x":1,"y":1}
 ]
},
"vconcat": [
 {"hconcat": [
   {"width": 55, "height": 387, "data": {"values": []}, "mark": "point"},
   {"width": 303, "height": 303,
    "title": {"text": "Mobility", "dx": -39, "offset": 30},
    "encoding": {
     "x": {"field": "x", "type": "quantitative", "title": "FP Rate (1-Specificity)", "scale": {"domain": [-0.0545, 1.0473], "nice": false, "zero": false}, "axis": {"values": [0,0.1,0.2,0.3,0.4,0.5,0.6,0.7,0.8,0.9,1], "labelExpr": "round(datum.value*10)%2==0 ? (datum.value==0 ? '0' : datum.value==1 ? '1' : format(datum.value,'.1f')) : ''"}},
     "y": {"field": "y", "type": "quantitative", "title": "TP Rate (Sensitivity)", "scale": {"domain": [-0.0459, 1.058], "nice": false, "zero": false}, "axis": {"values": [0,0.1,0.2,0.3,0.4,0.5,0.6,0.7,0.8,0.9,1], "labelExpr": "round(datum.value*10)%2==0 ? (datum.value==0 ? '0' : datum.value==1 ? '1' : format(datum.value,'.1f')) : ''"}}},
    "layer": [
     {"data": {"name": "hull"}, "transform": [{"filter": "datum.p==1"}], "mark": {"type": "area", "fill": "#f2f2f2", "fillOpacity": 0.85, "clip": true}, "encoding": {"y2": {"datum": 0}}},
     {"data": {"name": "hull"}, "transform": [{"filter": "datum.p==1"}], "mark": {"type": "line", "stroke": "#dadada", "strokeWidth": 1.5, "clip": true}, "encoding": {"order": {"field": "i", "type": "quantitative"}}},
     {"data": {"name": "diag"}, "mark": {"type": "line", "stroke": "#c4c4c4", "strokeWidth": 1, "strokeDash": [4, 3]}, "encoding": {"order": {"field": "i", "type": "quantitative"}}},
     {"data": {"name": "curves"}, "transform": [{"filter": "datum.p==1"}], "mark": {"type": "line", "strokeWidth": 2.2, "clip": true, "point": {"filled": true, "size": 9}}, "encoding": {"order": {"field": "i", "type": "quantitative"}, "color": {"field": "s", "type": "nominal", "scale": {"domain": ["a","b","c"], "range": ["#a49cf2","#2ef0a3","#f88a42"]}, "legend": null}}},
     {"data": {"name": "thr"}, "transform": [{"filter": "datum.p==1"}], "mark": {"type": "line", "stroke": "#666", "strokeWidth": 1.6, "clip": true}, "encoding": {"order": {"field": "i", "type": "quantitative"}}},
     {"data": {"name": "lbl"}, "transform": [{"filter": "datum.p==1"}], "mark": {"type": "text", "align": "left", "baseline": "middle", "fontSize": 4.5, "fill": "#aaa", "font": "Liberation Sans", "clip": true}, "encoding": {"text": {"field": "t"}}}
    ]},
   {"width": 107, "height": 387, "data": {"values": []}, "mark": "point"},
   {"width": 284, "height": 285,
    "title": {"text": "Self-care", "dx": 35, "offset": 48},
    "encoding": {
     "x": {"field": "x", "type": "quantitative", "title": "FP Rate (1-Specificity)", "scale": {"domain": [-0.0543, 1.0477], "nice": false, "zero": false}, "axis": {"values": [0,0.1,0.2,0.3,0.4,0.5,0.6,0.7,0.8,0.9,1], "labelExpr": "round(datum.value*10)%2==0 ? (datum.value==0 ? '0' : datum.value==1 ? '1' : format(datum.value,'.1f')) : ''"}},
     "y": {"field": "y", "type": "quantitative", "title": "TP Rate (Sensitivity)", "scale": {"domain": [-0.0495, 1.0608], "nice": false, "zero": false}, "axis": {"values": [0,0.1,0.2,0.3,0.4,0.5,0.6,0.7,0.8,0.9,1], "labelExpr": "round(datum.value*10)%2==0 ? (datum.value==0 ? '0' : datum.value==1 ? '1' : format(datum.value,'.1f')) : ''"}}},
    "layer": [
     {"data": {"name": "hull"}, "transform": [{"filter": "datum.p==2"}], "mark": {"type": "area", "fill": "#f2f2f2", "fillOpacity": 0.85, "clip": true}, "encoding": {"y2": {"datum": 0}}},
     {"data": {"name": "hull"}, "transform": [{"filter": "datum.p==2"}], "mark": {"type": "line", "stroke": "#dadada", "strokeWidth": 1.5, "clip": true}, "encoding": {"order": {"field": "i", "type": "quantitative"}}},
     {"data": {"name": "diag"}, "mark": {"type": "line", "stroke": "#c4c4c4", "strokeWidth": 1, "strokeDash": [4, 3]}, "encoding": {"order": {"field": "i", "type": "quantitative"}}},
     {"data": {"name": "curves"}, "transform": [{"filter": "datum.p==2"}], "mark": {"type": "line", "strokeWidth": 2.2, "clip": true, "point": {"filled": true, "size": 9}}, "encoding": {"order": {"field": "i", "type": "quantitative"}, "color": {"field": "s", "type": "nominal", "scale": {"domain": ["a","b","c"], "range": ["#a49cf2","#2ef0a3","#f88a42"]}, "legend": null}}},
     {"data": {"name": "thr"}, "transform": [{"filter": "datum.p==2"}], "mark": {"type": "line", "stroke": "#555", "strokeWidth": 1.6, "clip": true}, "encoding": {"order": {"field": "i", "type": "quantitative"}}},
     {"data": {"name": "lbl"}, "transform": [{"filter": "datum.p==2"}], "mark": {"type": "text", "align": "left", "baseline": "middle", "fontSize": 4.5, "fill": "#aaa", "font": "Liberation Sans", "clip": true}, "encoding": {"text": {"field": "t"}}}
    ]}
  ], "bounds": "flush", "spacing": 0},
 {"hconcat": [
   {"width": 46, "height": 407, "data": {"values": []}, "mark": "point"},
   {"width": 317, "height": 316,
    "title": {"text": "Usual activities", "dx": -5.5, "offset": 33},
    "encoding": {
     "x": {"field": "x", "type": "quantitative", "title": "FP Rate (1-Specificity)", "scale": {"domain": [-0.0519, 1.045], "nice": false, "zero": false}, "axis": {"values": [0,0.1,0.2,0.3,0.4,0.5,0.6,0.7,0.8,0.9,1], "labelExpr": "round(datum.value*10)%2==0 ? (datum.value==0 ? '0' : datum.value==1 ? '1' : format(datum.value,'.1f')) : ''"}},
     "y": {"field": "y", "type": "quantitative", "title": "TP Rate (Sensitivity)", "scale": {"domain": [-0.0479, 1.057], "nice": false, "zero": false}, "axis": {"values": [0,0.1,0.2,0.3,0.4,0.5,0.6,0.7,0.8,0.9,1], "labelExpr": "round(datum.value*10)%2==0 ? (datum.value==0 ? '0' : datum.value==1 ? '1' : format(datum.value,'.1f')) : ''"}}},
    "layer": [
     {"data": {"name": "hull"}, "transform": [{"filter": "datum.p==3"}], "mark": {"type": "area", "fill": "#f2f2f2", "fillOpacity": 0.85, "clip": true}, "encoding": {"y2": {"datum": 0}}},
     {"data": {"name": "hull"}, "transform": [{"filter": "datum.p==3"}], "mark": {"type": "line", "stroke": "#dadada", "strokeWidth": 1.5, "clip": true}, "encoding": {"order": {"field": "i", "type": "quantitative"}}},
     {"data": {"name": "diag"}, "mark": {"type": "line", "stroke": "#c4c4c4", "strokeWidth": 1, "strokeDash": [4, 3]}, "encoding": {"order": {"field": "i", "type": "quantitative"}}},
     {"data": {"name": "curves"}, "transform": [{"filter": "datum.p==3"}], "mark": {"type": "line", "strokeWidth": 3.2, "clip": true, "point": {"filled": true, "size": 12}}, "encoding": {"order": {"field": "i", "type": "quantitative"}, "color": {"field": "s", "type": "nominal", "scale": {"domain": ["a","b","c"], "range": ["#a49cf2","#2ef0a3","#f88a42"]}, "legend": null}}},
     {"data": {"name": "thr"}, "transform": [{"filter": "datum.p==3"}], "mark": {"type": "line", "stroke": "#222", "strokeWidth": 1, "clip": true}, "encoding": {"order": {"field": "i", "type": "quantitative"}}},
     {"data": {"name": "lbl"}, "transform": [{"filter": "datum.p==3"}], "mark": {"type": "text", "align": "left", "baseline": "middle", "fontSize": 4.5, "fill": "#aaa", "font": "Liberation Sans", "clip": true}, "encoding": {"text": {"field": "t"}}}
    ]},
   {"width": 128, "height": 407, "data": {"values": []}, "mark": "point"},
   {"width": 276, "height": 286,
    "title": {"text": "Pain", "dx": 87.5, "offset": 62},
    "encoding": {
     "x": {"field": "x", "type": "quantitative", "title": "FP Rate (1-Specificity)", "scale": {"domain": [-0.0567, 1.0077], "nice": false, "zero": false}, "axis": {"values": [0,0.1,0.2,0.3,0.4,0.5,0.6,0.7,0.8,0.9,1], "labelExpr": "round(datum.value*10)%2==0 ? (datum.value==0 ? '0' : datum.value==1 ? '1' : format(datum.value,'.1f')) : ''"}},
     "y": {"field": "y", "type": "quantitative", "title": "TP Rate (Sensitivity)", "scale": {"domain": [-0.0463, 1.0567], "nice": false, "zero": false}, "axis": {"values": [0,0.1,0.2,0.3,0.4,0.5,0.6,0.7,0.8,0.9,1], "labelExpr": "round(datum.value*10)%2==0 ? (datum.value==0 ? '0' : datum.value==1 ? '1' : format(datum.value,'.1f')) : ''"}}},
    "layer": [
     {"data": {"name": "hull"}, "transform": [{"filter": "datum.p==4"}], "mark": {"type": "area", "fill": "#f2f2f2", "fillOpacity": 0.85, "clip": true}, "encoding": {"y2": {"datum": 0}}},
     {"data": {"name": "hull"}, "transform": [{"filter": "datum.p==4"}], "mark": {"type": "line", "stroke": "#dadada", "strokeWidth": 1.5, "clip": true}, "encoding": {"order": {"field": "i", "type": "quantitative"}}},
     {"data": {"name": "diag"}, "mark": {"type": "line", "stroke": "#c4c4c4", "strokeWidth": 1, "strokeDash": [4, 3]}, "encoding": {"order": {"field": "i", "type": "quantitative"}}},
     {"data": {"name": "curves"}, "transform": [{"filter": "datum.p==4"}], "mark": {"type": "line", "strokeWidth": 2.2, "clip": true, "point": {"filled": true, "size": 9}}, "encoding": {"order": {"field": "i", "type": "quantitative"}, "color": {"field": "s", "type": "nominal", "scale": {"domain": ["a","b","c"], "range": ["#a49cf2","#2ef0a3","#f88a42"]}, "legend": null}}},
     {"data": {"name": "thr"}, "transform": [{"filter": "datum.p==4"}], "mark": {"type": "line", "stroke": "#222", "strokeWidth": 1, "clip": true}, "encoding": {"order": {"field": "i", "type": "quantitative"}}},
     {"data": {"name": "lbl"}, "transform": [{"filter": "datum.p==4"}], "mark": {"type": "text", "align": "left", "baseline": "middle", "fontSize": 4.5, "fill": "#aaa", "font": "Liberation Sans", "clip": true}, "encoding": {"text": {"field": "t"}}}
    ]}
  ], "bounds": "flush", "spacing": 0},
 {"hconcat": [
   {"width": 259, "height": 370, "data": {"values": []}, "mark": "point"},
   {"width": 291, "height": 288,
    "title": {"text": "Anxiety", "dx": -33, "offset": 31},
    "encoding": {
     "x": {"field": "x", "type": "quantitative", "title": "FP Rate (1-Specificity)", "scale": {"domain": [-0.058, 1.0443], "nice": false, "zero": false}, "axis": {"values": [0,0.1,0.2,0.3,0.4,0.5,0.6,0.7,0.8,0.9,1], "labelExpr": "round(datum.value*10)%2==0 ? (datum.value==0 ? '0' : datum.value==1 ? '1' : format(datum.value,'.1f')) : ''"}},
     "y": {"field": "y", "type": "quantitative", "title": "TP Rate (Sensitivity)", "scale": {"domain": [-0.0447, 1.0546], "nice": false, "zero": false}, "axis": {"values": [0,0.1,0.2,0.3,0.4,0.5,0.6,0.7,0.8,0.9,1], "labelExpr": "round(datum.value*10)%2==0 ? (datum.value==0 ? '0' : datum.value==1 ? '1' : format(datum.value,'.1f')) : ''"}}},
    "layer": [
     {"data": {"name": "hull"}, "transform": [{"filter": "datum.p==5"}], "mark": {"type": "area", "fill": "#f2f2f2", "fillOpacity": 0.85, "clip": true}, "encoding": {"y2": {"datum": 0}}},
     {"data": {"name": "hull"}, "transform": [{"filter": "datum.p==5"}], "mark": {"type": "line", "stroke": "#dadada", "strokeWidth": 1.5, "clip": true}, "encoding": {"order": {"field": "i", "type": "quantitative"}}},
     {"data": {"name": "diag"}, "mark": {"type": "line", "stroke": "#c4c4c4", "strokeWidth": 1, "strokeDash": [4, 3]}, "encoding": {"order": {"field": "i", "type": "quantitative"}}},
     {"data": {"name": "curves"}, "transform": [{"filter": "datum.p==5"}], "mark": {"type": "line", "strokeWidth": 2.8, "clip": true, "point": {"filled": true, "size": 10}}, "encoding": {"order": {"field": "i", "type": "quantitative"}, "color": {"field": "s", "type": "nominal", "scale": {"domain": ["a","b","c"], "range": ["#a49cf2","#2ef0a3","#f88a42"]}, "legend": null}}},
     {"data": {"name": "thr"}, "transform": [{"filter": "datum.p==5"}], "mark": {"type": "line", "stroke": "#222", "strokeWidth": 1, "clip": true}, "encoding": {"order": {"field": "i", "type": "quantitative"}}},
     {"data": {"name": "lbl"}, "transform": [{"filter": "datum.p==5"}], "mark": {"type": "text", "align": "left", "baseline": "middle", "fontSize": 4.5, "fill": "#aaa", "font": "Liberation Sans", "clip": true}, "encoding": {"text": {"field": "t"}}}
    ]}
  ], "bounds": "flush", "spacing": 0}
]
}
